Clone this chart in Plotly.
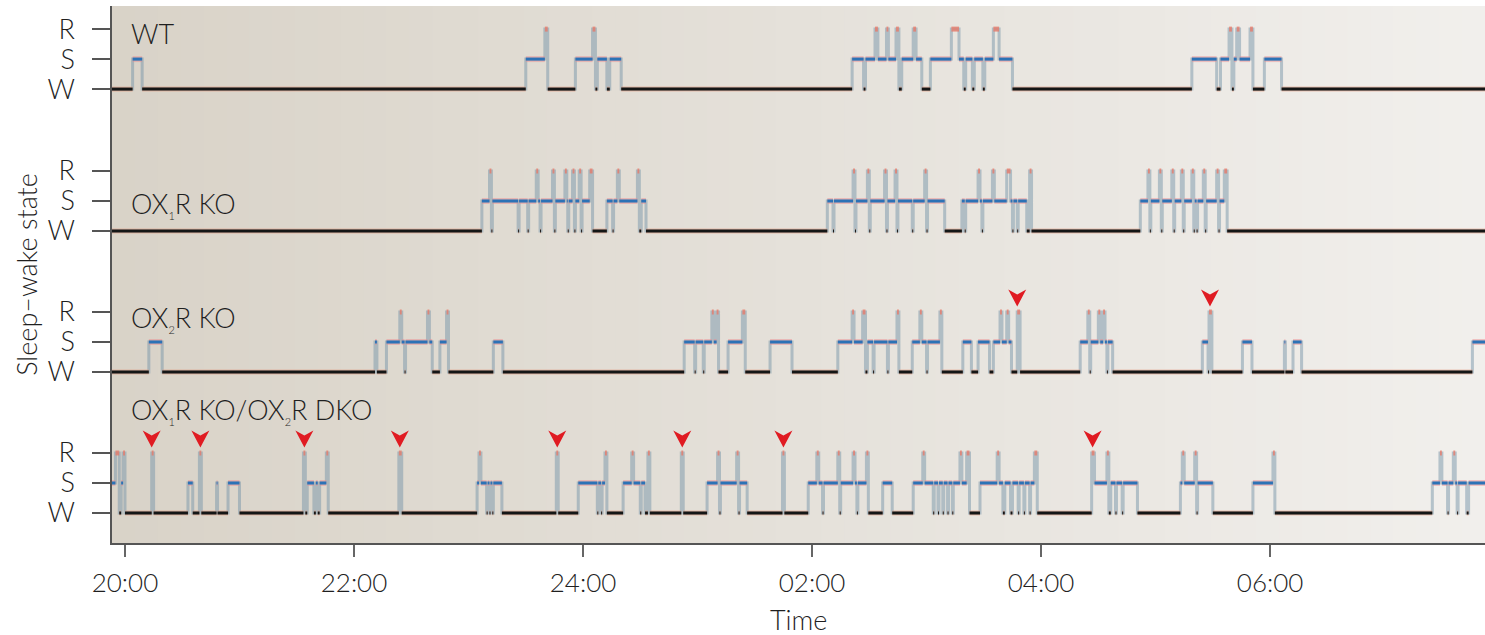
import plotly.graph_objects as go

# ---------------- data (minutes after 20:00) ----------------
TICK_MIN = [0, 120, 240, 360, 480, 600]
TICK_TEXT = ["20:00", "22:00", "24:00", "02:00", "04:00", "06:00"]
X_START, X_END = -6.8, 712.6

SUB = '<sub><span style="font-size:11px">%s</span></sub>'
PANEL_NAMES = ["WT", "OX" + SUB % "1" + "R KO", "OX" + SUB % "2" + "R KO",
               "OX" + SUB % "1" + "R KO/OX" + SUB % "2" + "R DKO"]
STATE_LABELS = ["W", "S", "R"]

WT_EPOCHS = [(-7, "W"), (4, "S"), (9, "W"), (210, "S"), (220, "R"), (221.5, "W"),
             (236, "S"), (245, "R"), (246.5, "W"), (247.5, "S"), (252.5, "W"), (254, "S"),
             (260, "W"), (381, "S"), (387, "W"), (388, "S"), (393, "R"), (394.5, "S"),
             (399, "R"), (400, "S"), (404, "R"), (405.5, "W"), (407, "S"), (413, "R"),
             (414.5, "S"), (417.5, "W"), (422, "S"), (433, "R"), (437, "S"), (439.5, "W"),
             (440.5, "S"), (444, "W"), (445, "S"), (449.5, "W"), (450.5, "S"), (455, "R"),
             (458, "S"), (465, "W"), (559, "S"), (572, "W"), (574, "S"), (578.5, "R"),
             (580, "W"), (581, "S"), (582.5, "R"), (584, "S"), (589.5, "R"), (591, "W"),
             (597, "S"), (606, "W")]

OX1R_EPOCHS = [(-7, "W"), (187, "S"), (191, "R"), (192, "W"), (192.5, "S"), (206, "W"),
               (206.5, "S"), (211, "W"), (211.5, "S"), (215.5, "R"), (216.5, "S"), (217.5, "W"),
               (218, "S"), (224, "R"), (225, "W"), (225.5, "S"), (230.5, "R"), (231.5, "S"),
               (232, "W"), (232.5, "S"), (234.5, "R"), (235.5, "W"), (236, "S"), (238, "R"),
               (239, "W"), (239.5, "S"), (243.5, "R"), (245, "W"), (252.5, "S"), (255.5, "W"),
               (256, "S"), (258, "R"), (259, "S"), (268.5, "R"), (269.5, "W"), (270.5, "S"),
               (273, "W"), (368, "S"), (371, "W"), (371.5, "S"), (381.5, "R"), (382.5, "W"),
               (383, "S"), (389, "R"), (390, "W"), (390.5, "S"), (398, "R"), (399, "W"),
               (399.5, "S"), (403.5, "R"), (404.5, "W"), (405, "S"), (412.5, "W"), (413, "S"),
               (419, "R"), (420, "W"), (420.5, "S"), (429.5, "W"), (438.5, "S"), (440, "W"),
               (440.5, "S"), (447, "R"), (448, "S"), (449, "W"), (449.5, "S"), (454.5, "R"),
               (455.5, "S"), (462, "R"), (464, "S"), (465, "W"), (465.5, "S"), (467.5, "W"),
               (468, "S"), (472.5, "W"), (474, "R"), (475, "W"), (532, "S"), (536, "R"),
               (537, "W"), (537.5, "S"), (542, "R"), (543, "W"), (543.5, "S"), (548.5, "R"),
               (549.5, "W"), (550, "S"), (553.5, "R"), (554.5, "W"), (555, "S"), (559, "R"),
               (560, "W"), (560.5, "S"), (561.5, "W"), (562, "S"), (565, "R"), (566, "W"),
               (566.5, "S"), (572, "R"), (573, "W"), (573.5, "S"), (576, "R"), (577.5, "W")]

OX2R_EPOCHS = [(-7, "W"), (12.5, "S"), (19.5, "W"), (131, "S"), (132, "W"), (137, "S"),
               (144, "R"), (145, "S"), (146.5, "W"), (147, "S"), (158.5, "R"), (159.5, "S"),
               (161, "W"), (165, "S"), (168.5, "R"), (169.5, "W"), (193, "S"), (198, "W"),
               (293, "S"), (298.5, "W"), (299, "S"), (303, "W"), (303.5, "S"), (307.5, "R"),
               (308.5, "S"), (310, "R"), (311, "W"), (316, "S"), (323.5, "R"), (325, "W"),
               (338, "S"), (349.5, "W"), (373.5, "S"), (381, "R"), (382, "S"), (386.5, "R"),
               (388, "W"), (389, "S"), (392, "W"), (392.5, "S"), (399.5, "W"), (400, "S"),
               (404.5, "R"), (405.5, "W"), (412.5, "S"), (416.5, "R"), (417.5, "S"), (420, "W"),
               (420.5, "S"), (427, "R"), (428, "W"), (439, "S"), (443.5, "W"), (447, "S"),
               (453, "W"), (455, "S"), (458.5, "R"), (459.5, "S"), (462, "R"), (463, "S"),
               (464.5, "W"), (467.5, "R"), (469, "W"), (500.5, "S"), (504.5, "R"), (505.5, "W"),
               (506, "S"), (510, "R"), (511, "S"), (512.5, "R"), (513.5, "S"), (514.5, "W"),
               (515, "S"), (517.5, "W"), (564.5, "S"), (567.5, "W"), (568, "R"), (569.5, "W"),
               (585.5, "S"), (590.5, "W"), (607.5, "S"), (608, "W"), (612, "S"), (616.5, "W"),
               (706, "S")]

DKO_EPOCHS = [(-7, "S"), (-5, "R"), (-3, "W"), (-2, "S"), (-1, "R"), (0, "W"), (14, "R"),
              (15, "W"), (33, "S"), (35.5, "W"), (39, "R"), (40, "W"), (48, "S"), (48.5, "W"),
              (54, "S"), (60, "W"), (93.5, "R"), (94.5, "W"), (95.5, "S"), (99, "W"), (100, "S"),
              (101, "W"), (102, "S"), (105.5, "R"), (106.5, "W"), (143.5, "R"), (145, "W"),
              (184.5, "S"), (185.5, "R"), (186.5, "S"), (189.5, "W"), (190, "S"), (191, "W"),
              (191.5, "S"), (192.5, "W"), (193, "S"), (197.5, "W"), (226, "R"), (227, "W"),
              (237.5, "S"), (247.5, "W"), (248, "S"), (249.5, "W"), (250, "S"), (251.5, "R"),
              (252.5, "W"), (261, "S"), (265.5, "R"), (266.5, "S"), (270, "W"), (270.5, "S"),
              (272.5, "W"), (274, "R"), (275, "W"), (291.5, "R"), (292.5, "W"), (305, "S"),
              (310.5, "R"), (311.5, "W"), (312, "S"), (320.5, "R"), (321.5, "W"), (322, "S"),
              (326, "W"), (344.5, "R"), (345.5, "W"), (358, "S"), (362.5, "R"), (363.5, "S"),
              (365.5, "W"), (366, "S"), (373.5, "R"), (374.5, "W"), (375, "S"), (381.5, "R"),
              (382.5, "S"), (383.5, "W"), (384, "S"), (388.5, "R"), (389.5, "W"), (397, "S"),
              (402, "W"), (413, "S"), (418, "R"), (419, "S"), (423.5, "W"), (424, "S"),
              (426, "W"), (426.5, "S"), (428.5, "W"), (429, "S"), (431, "W"), (431.5, "S"),
              (433.5, "W"), (434, "S"), (437.5, "R"), (438.5, "S"), (441, "R"), (442.5, "W"),
              (448, "S"), (457, "R"), (458, "S"), (460, "W"), (461, "S"), (464, "W"),
              (465, "S"), (468, "W"), (468.5, "S"), (471, "W"), (471.5, "S"), (474, "W"),
              (474.5, "S"), (476.5, "R"), (478, "W"), (506.5, "R"), (508, "S"), (514.5, "R"),
              (515.5, "W"), (516.5, "S"), (519, "W"), (519.5, "S"), (522.5, "W"), (523, "S"),
              (530.5, "W"), (553, "S"), (554, "R"), (555, "S"), (560.5, "R"), (561.5, "W"),
              (562, "S"), (570, "W"), (591, "S"), (601.5, "R"), (602.5, "W"), (685, "S"),
              (689, "R"), (690, "S"), (693, "W"), (693.5, "S"), (696, "R"), (697, "S"),
              (698, "W"), (698.5, "S"), (703, "W"), (704, "S")]

# red arrowheads marking direct transitions
OX2R_ARROWS = [467.5, 568.5]
DKO_ARROWS = [14, 39.5, 94, 144, 226.5, 292, 345, 507]

# ---------------- layout constants ----------------
LEVEL = {"W": 0, "S": 1, "R": 2}
OFFSETS = [14.13, 9.4, 4.7, 0.0]
LABEL_Y = [15.97, 10.3, 6.5, 3.43]
PANELS = [WT_EPOCHS, OX1R_EPOCHS, OX2R_EPOCHS, DKO_EPOCHS]
ARROWS = [[], [], OX2R_ARROWS, DKO_ARROWS]

FONT = "Lato, 'Open Sans', sans-serif"
TXT = "#1f1f1f"
WEIGHT = 300

fig = go.Figure()

for epochs, off in zip(PANELS, OFFSETS):
    times = [t for t, _ in epochs]
    states = [s for _, s in epochs]
    xs = times + [X_END]
    ys = [off + LEVEL[s] for s in states] + [off + LEVEL[states[-1]]]
    fig.add_trace(go.Scatter(x=xs, y=ys, mode="lines",
                             line=dict(shape="hv", color="rgba(120,150,170,0.5)", width=3),
                             hoverinfo="skip", showlegend=False))
    for state, color, width in [("S", "rgba(236,135,140,0.45)", 6),
                                ("W", "rgba(230,150,120,0.5)", 5),
                                ("W", "#141616", 3),
                                ("S", "#2c72b6", 3),
                                ("R", "rgba(232,118,100,0.75)", 5)]:
        sx, sy = [], []
        for i, (t, s) in enumerate(epochs):
            if s != state:
                continue
            t2 = times[i + 1] if i + 1 < len(times) else X_END
            lv = off + LEVEL[s]
            sx += [t, t2, None]
            sy += [lv, lv, None]
        fig.add_trace(go.Scatter(x=sx, y=sy, mode="lines",
                                 line=dict(color=color, width=width),
                                 hoverinfo="skip", showlegend=False))

# ---------------- background gradient ----------------
shapes = []
N = 60
c0 = (217, 211, 200)
c1 = (241, 239, 236)
for i in range(N):
    f = i / (N - 1)
    col = tuple(int(round(a + (b - a) * f)) for a, b in zip(c0, c1))
    shapes.append(dict(type="rect", xref="paper", yref="paper",
                       x0=i / N, x1=(i + 1) / N + 0.002, y0=0, y1=1,
                       fillcolor="rgb(%d,%d,%d)" % col, line=dict(width=0),
                       layer="below"))

for arr, off in zip(ARROWS, OFFSETS):
    for t in arr:
        shapes.append(dict(type="path", xref="x", yref="y",
                           xsizemode="pixel", ysizemode="pixel",
                           xanchor=t, yanchor=off + 2.18,
                           path="M0,0 L-9,17 L0,12 L9,17 Z",
                           fillcolor="#e01b22", line=dict(width=0), layer="above"))

# ---------------- annotations ----------------
annotations = []
for name, ly in zip(PANEL_NAMES, LABEL_Y):
    annotations.append(dict(text=name, xref="paper", yref="y", x=0.0125, y=ly,
                            xanchor="left", yanchor="middle", showarrow=False,
                            font=dict(family=FONT, size=27, color=TXT, weight=WEIGHT)))
annotations.append(dict(text="Time", xref="paper", yref="paper", x=0.5, y=-0.142,
                        xanchor="center", yanchor="middle", showarrow=False,
                        font=dict(family=FONT, size=27, color=TXT, weight=WEIGHT)))

tickvals, ticktext = [], []
for off in OFFSETS:
    for lab in STATE_LABELS:
        tickvals.append(off + LEVEL[lab])
        ticktext.append(lab)

fig.update_layout(
    width=1485, height=635,
    margin=dict(l=112, r=0, t=6, b=92),
    paper_bgcolor="white", plot_bgcolor="rgb(228,224,216)",
    font=dict(family=FONT, size=26, color=TXT, weight=WEIGHT),
    shapes=shapes, annotations=annotations,
    xaxis=dict(range=[X_START, X_END], tickvals=TICK_MIN, ticktext=TICK_TEXT,
               ticks="outside", ticklen=12, tickwidth=1.5, tickcolor="#666",
               showline=True, linecolor="#555", linewidth=1.5,
               showgrid=False, zeroline=False, automargin=False,
               ticklabelstandoff=4,
               tickfont=dict(size=26, color=TXT, weight=WEIGHT)),
    yaxis=dict(range=[-1, 16.9], tickvals=tickvals, ticktext=ticktext,
               ticks="outside", ticklen=18, tickwidth=1.5, tickcolor="#555",
               showline=True, linecolor="#555", linewidth=1.5,
               showgrid=False, zeroline=False, automargin=False,
               ticklabelstandoff=12,
               tickfont=dict(size=27, color=TXT, weight=WEIGHT),
               title=dict(text="Sleep\u2013wake state",
                          font=dict(size=27, color=TXT, weight=WEIGHT), standoff=2)),
)

fig.write_html("out.html", config={"displayModeBar": False},
               post_script="document.body.style.margin='0';document.body.style.padding='0';")
